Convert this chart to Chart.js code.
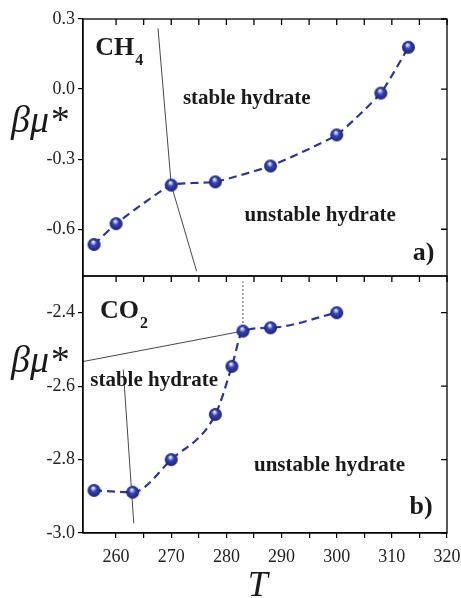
<!DOCTYPE html>
<html>
<head>
<meta charset="utf-8">
<script src="https://cdn.jsdelivr.net/npm/chart.js@4"></script>
<style>
  html, body { margin: 0; padding: 0; background: #fff; }
  #wrap { width: 461px; height: 598px; }
</style>
</head>
<body>
<div id="wrap"><canvas id="chart" width="461" height="598"></canvas></div>
<script>
// CH4 panel (a)
const ch4T  = [256, 260, 270, 278, 288, 300, 308, 313];
const ch4Mu = [-0.665, -0.576, -0.411, -0.397, -0.329, -0.196, -0.017, 0.179];
const ch4Border = [{x: 267.6, y: 0.26}, {x: 270, y: -0.41}, {x: 274.6, y: -0.78}];

// CO2 panel (b)
const co2T  = [256, 263, 270, 278, 281, 283, 288, 300];
const co2Mu = [-2.884, -2.889, -2.800, -2.677, -2.546, -2.450, -2.441, -2.400];
const co2Upper = [{x: 254, y: -2.533}, {x: 283, y: -2.45}];
const co2Vert  = [{x: 283, y: -2.45}, {x: 283, y: -2.315}];
const co2Lower = [{x: 261.3, y: -2.555}, {x: 263.2, y: -2.973}];

// axis ticks
const xTicks   = [260, 270, 280, 290, 300, 310, 320];
const ch4Ticks = [0.3, 0.0, -0.3, -0.6];
const co2Ticks = [-2.4, -2.6, -2.8, -3.0];

const serif = '"Liberation Serif", "DejaVu Serif", serif';
const blue = '#2a36a0';

function makeBall(r) {
  const c = document.createElement('canvas');
  const s = Math.ceil(r * 2 + 2);
  c.width = c.height = s;
  const g = c.getContext('2d');
  const cx = s / 2, cy = s / 2;
  const grad = g.createRadialGradient(cx - r * 0.15, cy - r * 0.42, r * 0.05, cx, cy, r);
  grad.addColorStop(0, '#ffffff');
  grad.addColorStop(0.18, '#aab4ee');
  grad.addColorStop(0.42, '#3444b8');
  grad.addColorStop(0.85, '#202c8c');
  grad.addColorStop(1, '#141a66');
  g.fillStyle = grad;
  g.beginPath();
  g.arc(cx, cy, r, 0, Math.PI * 2);
  g.fill();
  return c;
}
const ball = makeBall(6.5);

const pts = (xs, ys) => xs.map((x, i) => ({x: x, y: ys[i]}));
const near = (v, list) => list.some(t => Math.abs(v - t) < 1e-6);
const fmt = v => Math.abs(v) < 1e-9 ? '0.0' : v.toFixed(1);

function thin(data, axis, dash) {
  return {
    data: data, yAxisID: axis, borderColor: '#333', borderWidth: 0.9,
    borderDash: dash || [], pointRadius: 0, tension: 0, order: 5
  };
}

// panel labels, frame and inner ticks
const decor = {
  id: 'decor',
  afterDraw(chart) {
    const ctx = chart.ctx;
    const x = chart.scales.x, yA = chart.scales.yA, yB = chart.scales.yB;
    const L = chart.chartArea.left, R = chart.chartArea.right;
    ctx.save();
    ctx.strokeStyle = '#000';
    ctx.lineWidth = 1.3;
    [yA, yB].forEach(ys => {
      ctx.strokeRect(L, ys.top, R - L, ys.bottom - ys.top);
      ctx.beginPath();
      x.ticks.forEach(t => {
        const px = x.getPixelForValue(t.value);
        ctx.moveTo(px, ys.top); ctx.lineTo(px, ys.top + 6);
      });
      ys.ticks.forEach(t => {
        const py = ys.getPixelForValue(t.value);
        ctx.moveTo(R, py); ctx.lineTo(R - 6, py);
      });
      ctx.stroke();
    });

    ctx.fillStyle = '#1a1a1a';
    const txt = (s, tx, ty, ys, font, align, base) => {
      ctx.font = font;
      ctx.textAlign = align;
      ctx.textBaseline = base;
      ctx.fillText(s, x.getPixelForValue(tx), ys.getPixelForValue(ty));
    };
    const formula = (main, sub, tx, ty, ys) => {
      ctx.font = 'bold 26px ' + serif;
      ctx.textAlign = 'left';
      ctx.textBaseline = 'alphabetic';
      const px = x.getPixelForValue(tx), py = ys.getPixelForValue(ty);
      ctx.fillText(main, px, py);
      const w = ctx.measureText(main).width;
      ctx.font = 'bold 16px ' + serif;
      ctx.fillText(sub, px + w + 1, py + 10);
    };
    const bold = 'bold 21px ' + serif;

    formula('CH', '4', 256.2, 0.146, yA);
    txt('stable hydrate', 283.7, -0.042, yA, bold, 'center', 'middle');
    txt('unstable hydrate', 297.0, -0.543, yA, bold, 'center', 'middle');
    txt('a)', 317.7, -0.732, yA, 'bold 26px ' + serif, 'right', 'alphabetic');

    formula('CO', '2', 257.1, -2.414, yB);
    txt('stable hydrate', 266.9, -2.586, yB, bold, 'center', 'middle');
    txt('unstable hydrate', 298.7, -2.815, yB, bold, 'center', 'middle');
    txt('b)', 317.4, -2.948, yB, 'bold 26px ' + serif, 'right', 'alphabetic');

    // axis titles
    ctx.font = 'italic 38px ' + serif;
    ctx.textAlign = 'left';
    ctx.textBaseline = 'middle';
    ctx.fillText('\u03b2\u03bc*', 11, yA.getPixelForValue(-0.141));
    ctx.fillText('\u03b2\u03bc*', 11, yB.getPixelForValue(-2.534));
    ctx.font = 'italic 36px ' + serif;
    ctx.textAlign = 'center';
    ctx.textBaseline = 'alphabetic';
    ctx.fillText('T', x.getPixelForValue(285.7), 596);
    ctx.restore();
  }
};

const yCommon = (min, max, step, labels) => ({
  type: 'linear', position: 'left', stack: 'panels', stackWeight: 1,
  min: min, max: max,
  afterFit: s => { s.width = 83; s.paddingTop = 0; s.paddingBottom = 0; },
  afterBuildTicks: s => {
    s.ticks = s.ticks.filter(t => Math.abs(t.value / step - Math.round(t.value / step)) < 1e-6);
  },
  ticks: {
    stepSize: step, padding: 3, color: '#222',
    font: {family: serif, size: 18},
    callback: v => near(v, labels) ? fmt(v) : ''
  },
  grid: {drawOnChartArea: false, tickLength: 5, color: '#000', lineWidth: 1.2},
  border: {color: '#000', width: 1.3}
});

new Chart(document.getElementById('chart'), {
  type: 'line',
  data: {
    datasets: [
      {
        data: pts(ch4T, ch4Mu), yAxisID: 'yA', borderColor: blue, borderWidth: 2.2,
        borderDash: [8, 5], tension: 0.15,
        pointStyle: ball, pointRadius: 6.5, order: 1
      },
      {
        data: pts(co2T, co2Mu), yAxisID: 'yB', borderColor: blue, borderWidth: 2.2,
        borderDash: [8, 5], cubicInterpolationMode: 'monotone',
        pointStyle: ball, pointRadius: 6.5, order: 1
      },
      thin(ch4Border, 'yA'),
      thin(co2Upper, 'yB'),
      thin(co2Vert, 'yB', [2, 2]),
      thin(co2Lower, 'yB')
    ]
  },
  options: {
    responsive: false,
    animation: false,
    layout: {padding: {top: 19, right: 14, left: 0, bottom: 0}},
    plugins: {legend: {display: false}, tooltip: {enabled: false}},
    scales: {
      x: {
        type: 'linear', min: 254, max: 320,
        afterFit: s => { s.height = 65; s.paddingLeft = 0; s.paddingRight = 0; },
        afterBuildTicks: s => {
          s.ticks = s.ticks.filter(t => Math.abs(t.value / 5 - Math.round(t.value / 5)) < 1e-6);
        },
        ticks: {
          stepSize: 5, padding: 8, color: '#222', maxRotation: 0,
          font: {family: serif, size: 18},
          callback: v => near(v, xTicks) ? String(v) : ''
        },
        grid: {drawOnChartArea: false, tickLength: 5, color: '#000', lineWidth: 1.2},
        border: {color: '#000', width: 1.3}
      },
      yB: yCommon(-3.0, -2.3, 0.1, co2Ticks),
      yA: yCommon(-0.8, 0.3, 0.15, ch4Ticks)
    }
  },
  plugins: [decor]
});
</script>
</body>
</html>
